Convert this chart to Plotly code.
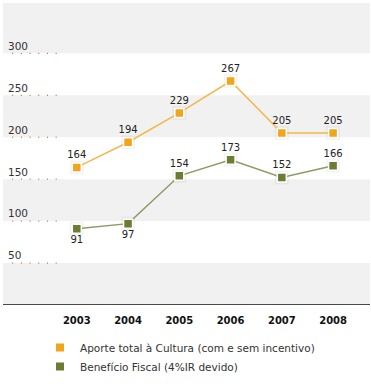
import plotly.graph_objects as go

years = [2003, 2004, 2005, 2006, 2007, 2008]
aporte = [164, 194, 229, 267, 205, 205]
beneficio = [91, 97, 154, 173, 152, 166]
tick_vals = [50, 100, 150, 200, 250, 300]
series_names = ["Aporte total à Cultura (com e sem incentivo)", "Benefício Fiscal (4%IR devido)"]

ORANGE = "#f0a51a"
ORANGE_LINE = "#f3b74a"
GREEN = "#6a7d32"
GREEN_LINE = "#8c9b62"
Y_MAX = 360

fig = go.Figure()

# gray bands
for lo, hi in [(0, 50), (100, 150), (200, 250), (300, Y_MAX)]:
    fig.add_shape(type="rect", xref="paper", yref="y", x0=0, x1=1, y0=lo, y1=hi,
                  fillcolor="#f1f1f1", line_width=0, layer="below")
# dotted tick marks
for v in tick_vals:
    fig.add_shape(type="line", xref="paper", yref="y", x0=0.025, x1=0.15, y0=v, y1=v,
                  line=dict(color="#b5541e", width=1, dash="1px,7.7px"), layer="below")

# shadows
for vals in (aporte, beneficio):
    fig.add_trace(go.Scatter(x=years, y=vals, mode="markers", showlegend=False, hoverinfo="skip",
                             marker=dict(symbol="square", size=14, color="rgba(0,0,0,0.045)", line_width=0)))

fig.add_trace(go.Scatter(
    x=years, y=aporte, mode="lines+markers+text", name=series_names[0], showlegend=False,
    line=dict(color=ORANGE_LINE, width=1.5),
    marker=dict(symbol="square", size=9, color=ORANGE, line=dict(color="white", width=1.5)),
    text=[str(v) for v in aporte], textposition="top center",
    textfont=dict(family="DejaVu Sans", size=10, color="#222"),
))
fig.add_trace(go.Scatter(
    x=years, y=beneficio, mode="lines+markers+text", name=series_names[1], showlegend=False,
    line=dict(color=GREEN_LINE, width=1.5),
    marker=dict(symbol="square", size=9, color=GREEN, line=dict(color="white", width=1.5)),
    text=[str(v) for v in beneficio],
    textposition=["bottom center", "bottom center", "top center", "top center", "top center", "top center"],
    textfont=dict(family="DejaVu Sans", size=10, color="#222"),
))

# legend-only entries
for name, col in zip(series_names, [ORANGE, GREEN]):
    fig.add_trace(go.Scatter(x=[None], y=[None], mode="markers", name=name,
                             marker=dict(symbol="square", size=8, color=col)))

fig.update_layout(
    width=371, height=392,
    margin=dict(l=3, r=1, t=3, b=87, autoexpand=False),
    paper_bgcolor="white", plot_bgcolor="white",
    font=dict(family="DejaVu Sans", size=11, color="#333"),
    showlegend=True,
    legend=dict(x=40 / 371, y=1 - 333 / 392, xref="container", yref="container",
                xanchor="left", yanchor="top", orientation="v",
                font=dict(family="DejaVu Sans", size=10.5, color="#333"),
                itemwidth=30, tracegroupgap=2, bgcolor="rgba(0,0,0,0)"),
    xaxis=dict(range=[2001.56, 2008.72], tickvals=years, ticktext=[str(y) for y in years],
               showgrid=False, zeroline=False, showline=False, ticks="", automargin=False,
               ticklabelstandoff=8,
               tickfont=dict(family="DejaVu Sans", size=10, color="#111", weight="bold")),
    yaxis=dict(range=[0, Y_MAX], tickvals=tick_vals, showgrid=False, zeroline=False,
               showline=False, ticks="", ticklabelposition="inside top", automargin=False,
               ticklabelstandoff=2,
               tickfont=dict(family="DejaVu Sans", size=10.5, color="#333")),
)
fig.add_shape(type="line", xref="paper", yref="y", x0=0, x1=1, y0=0, y1=0,
              line=dict(color="#111", width=1.5))

fig.write_html("out.html", config={"displayModeBar": False},
               post_script="document.body.style.margin='0';document.body.style.overflow='hidden';")
